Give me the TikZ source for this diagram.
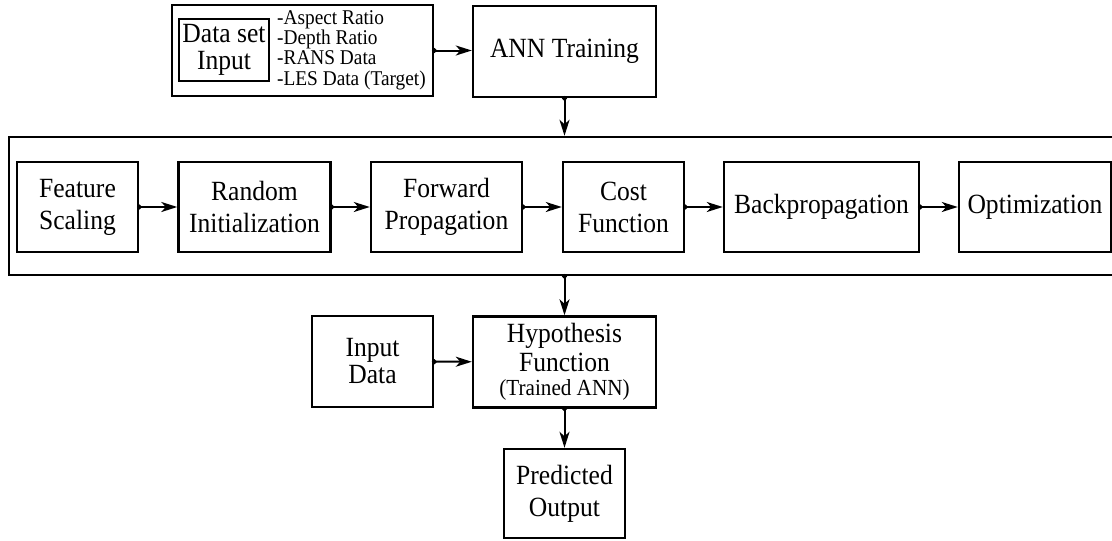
\documentclass[tikz,border=0pt]{standalone}
\usepackage{fontspec}
\setmainfont[FakeStretch=0.92]{Liberation Serif}
\usetikzlibrary{arrows.meta}
\begin{document}
\begin{tikzpicture}[x=1pt,y=-1pt,
  box/.style={draw, line width=2.4pt, inner sep=0pt, align=center,
    font=\fontsize{27.8}{32}\selectfont},
  flow/.style={line width=2pt, shorten <=-2pt,
    {Circle[length=4.5pt]}-{Stealth[length=16pt,width=10pt,inset=4.5pt]}}]
\useasboundingbox (0,0) rectangle (1112,541);
\clip (0,0) rectangle (1112,541);

% data source
\node[box, minimum width=261pt, minimum height=91pt] (src) at (302.5,50.5) {};
\node[box, line width=2pt, minimum width=90pt, minimum height=62pt,
  font=\fontsize{27.8}{27}\selectfont] (ds) at (224,50) {Data set\\Input};
\node[anchor=west, align=left, inner sep=0pt,
  font=\fontsize{21}{20.3}\selectfont] (vars) at (277,50)
  {-Aspect Ratio\\-Depth Ratio\\-RANS Data\\-LES Data (Target)};

\node[box, minimum width=183pt, minimum height=91pt] (ann) at (564.5,51.5) {ANN Training};

% training loop
\node[box, minimum width=1121pt, minimum height=138pt] (loop) at (569.5,206) {};
\node[box, minimum width=121pt, minimum height=90pt] (feat) at (77.5,207) {Feature\\Scaling};
\node[box, minimum width=152pt, minimum height=90pt] (rand) at (254.5,207) {Random\\Initialization};
\node[box, minimum width=151pt, minimum height=90pt] (fwd) at (446.5,207) {Forward\\Propagation};
\node[box, minimum width=121pt, minimum height=90pt] (cost) at (623.5,207) {Cost\\Function};
\node[box, minimum width=195pt, minimum height=90pt] (back) at (821.5,207) {Backpropagation};
\node[box, minimum width=152pt, minimum height=90pt] (opt) at (1035,207) {Optimization};

% prediction
\node[box, minimum width=121pt, minimum height=91pt,
  font=\fontsize{27.8}{27}\selectfont] (inp) at (372.5,361.5) {Input\\Data};
\node[box, minimum width=183pt, minimum height=91pt,
  font=\fontsize{27.8}{29}\selectfont] (hyp) at (564.5,362)
  {Hypothesis\\Function\\[-5pt]{\fontsize{23}{24}\selectfont(Trained ANN)}};
\node[box, minimum width=121pt, minimum height=89pt] (pred) at (564.5,493.5) {Predicted\\Output};

% connectors
\draw[flow] (src.east) -- (src.east -| ann.west);
\draw[flow] (ann.south) -- (ann.south |- loop.north);
\draw[flow] (feat) -- (rand);
\draw[flow] (rand) -- (fwd);
\draw[flow] (fwd) -- (cost);
\draw[flow] (cost) -- (back);
\draw[flow] (back) -- (opt);
\draw[flow] (ann.south |- loop.south) -- (hyp.north);
\draw[flow] (inp) -- (hyp);
\draw[flow] (hyp.south) -- (pred.north);
\end{tikzpicture}
\end{document}
